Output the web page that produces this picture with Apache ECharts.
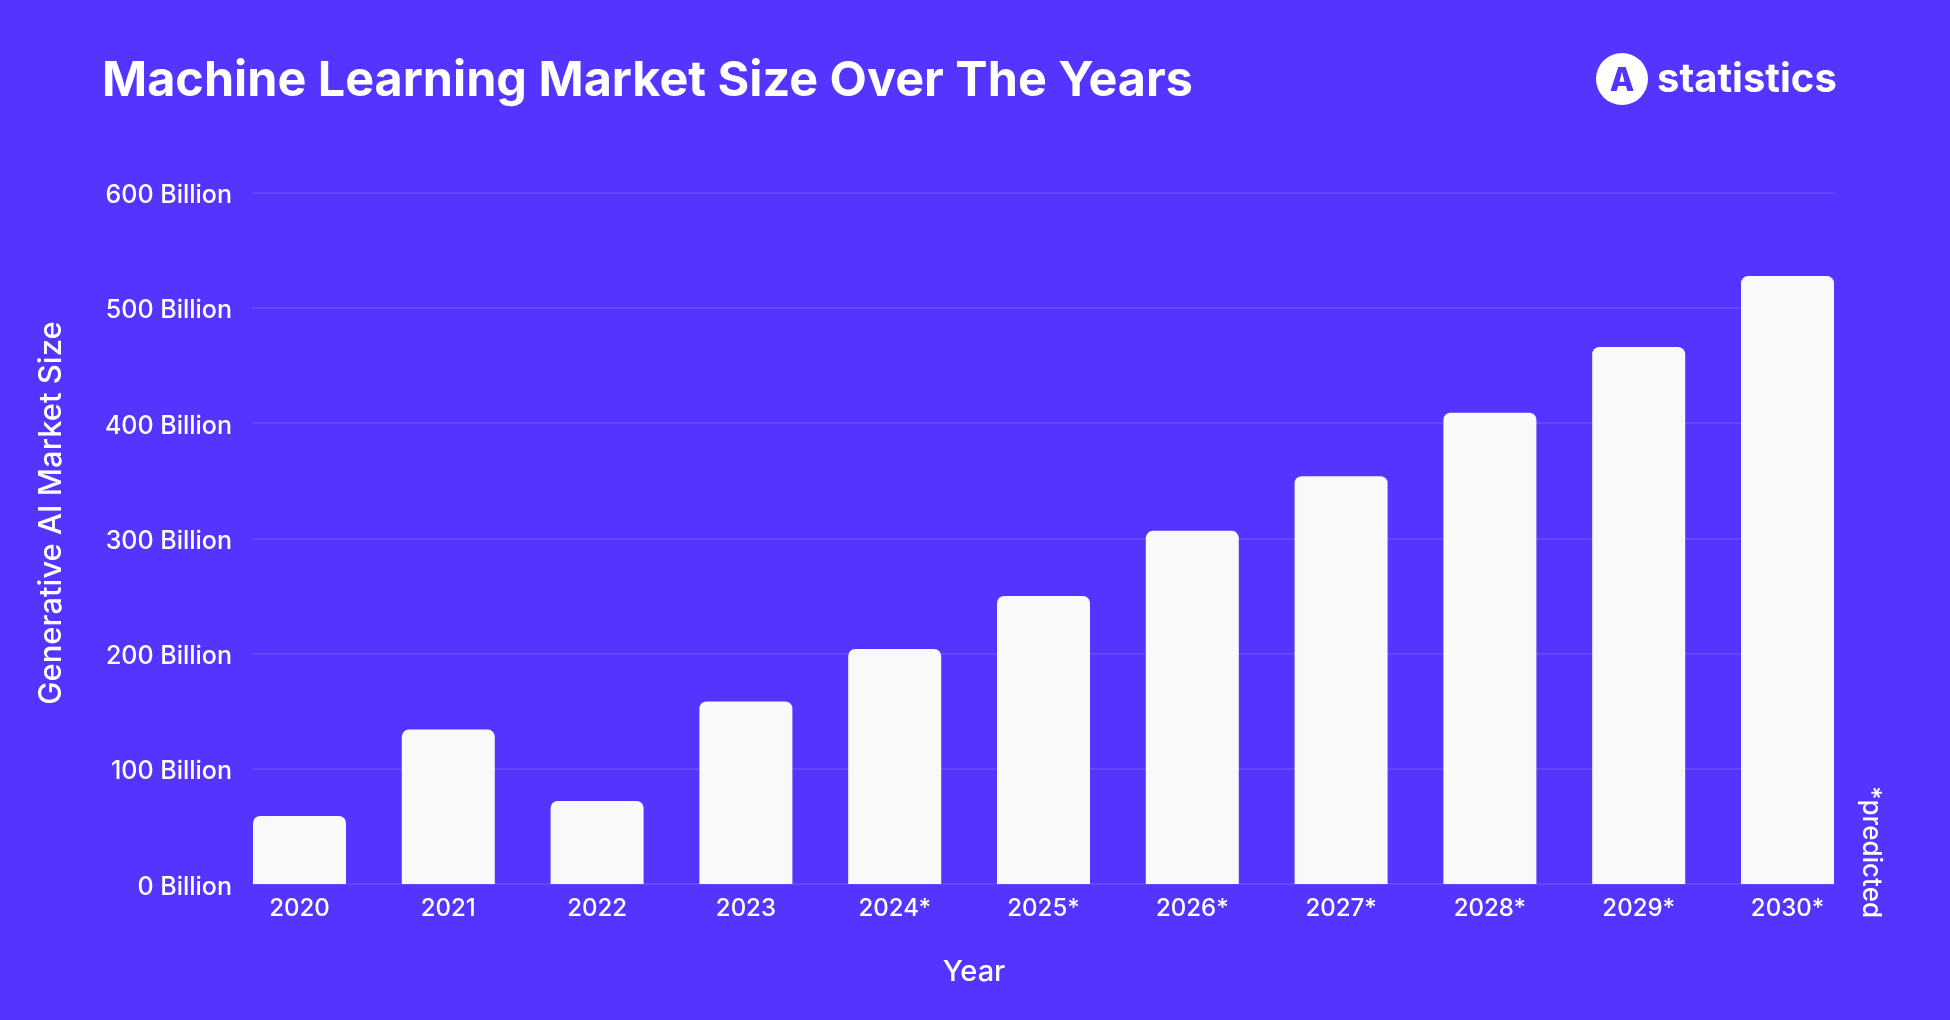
<!DOCTYPE html>
<html><head><meta charset="utf-8">
<script src="https://cdn.jsdelivr.net/npm/echarts@6/dist/echarts.min.js"></script>
<style>html,body{margin:0;padding:0;background:#5634ff}#c{width:1950px;height:1020px}</style>
</head><body><div id="c"></div>
<script>
const categories = ['2020','2021','2022','2023','2024*','2025*','2026*','2027*','2028*','2029*','2030*'];
const marketSize = [59, 134, 72, 158.5, 204, 250, 306.5, 354, 409, 466, 527.6];
const yMin = 0, yMax = 600, yStep = 100;
const titleText = 'Machine Learning Market Size Over The Years';
const yTitle = 'Generative AI Market Size';
const xTitle = 'Year';
const noteText = '*predicted';
const brandText = 'statistics';

const chart = echarts.init(document.getElementById('c'), null, {renderer: 'canvas'});
const white = '#ffffff';
const font = 'Inter, "Noto Sans", sans-serif';
chart.setOption({
  backgroundColor: '#5634ff',
  animation: false,
  title: {
    text: titleText, left: 97, top: 52,
    textStyle: {color: white, fontSize: 48.5, fontWeight: 700, fontFamily: 'Inter, "Open Sans", sans-serif'}
  },
  grid: [
    {left: 252, right: 116, top: 192.7, bottom: 136},
    {left: 299.5, right: 162.5, top: 192.7, bottom: 136}
  ],
  xAxis: [
    {gridIndex: 0, type: 'category', data: categories, show: false},
    {gridIndex: 1, type: 'category', data: categories, boundaryGap: false,
     axisLine: {show: false}, axisTick: {show: false}, splitLine: {show: false},
     axisLabel: {color: white, fontSize: 24, fontFamily: font, fontWeight: 500, margin: 13}}
  ],
  yAxis: [
    {gridIndex: 0, type: 'value', min: yMin, max: yMax, interval: yStep,
     axisLine: {show: false}, axisTick: {show: false},
     axisLabel: {color: white, margin: 20,
       formatter: v => '{t|' + v + ' Billion}',
       rich: {t: {color: white, fontSize: 25, fontFamily: font, fontWeight: 500, padding: [6, 0, 0, 0]}}},
     splitLine: {lineStyle: {color: 'rgba(255,255,255,0.13)', width: 1.5}}},
    {gridIndex: 1, type: 'value', min: yMin, max: yMax, interval: yStep, show: false,
     splitLine: {show: false}}
  ],
  series: [{
    type: 'bar', xAxisIndex: 1, yAxisIndex: 1, data: marketSize, barWidth: 93, clip: false,
    itemStyle: {color: '#f9f9f9', borderRadius: [7, 7, 0, 0]}
  }],
  graphic: [
    {type: 'text', x: 52, y: 513, rotation: Math.PI / 2, style: {text: yTitle, fill: white, font: '500 31px ' + font, textAlign: 'center', textVerticalAlign: 'middle'}},
    {type: 'text', x: 974, y: 972, style: {text: xTitle, fill: white, font: '500 29px ' + font, textAlign: 'center', textVerticalAlign: 'middle'}},
    {type: 'text', x: 1871, y: 852, rotation: -Math.PI / 2, style: {text: noteText, fill: white, font: '500 26px ' + font, textAlign: 'center', textVerticalAlign: 'middle'}},
    {type: 'circle', shape: {cx: 1622, cy: 79, r: 26}, style: {fill: white}},
    {type: 'text', x: 1622, y: 81, style: {text: 'A', fill: '#5634ff', font: '800 32px ' + font, textAlign: 'center', textVerticalAlign: 'middle'}},
    {type: 'text', x: 1657, y: 80, style: {text: brandText, fill: white, font: '700 40px ' + font, textAlign: 'left', textVerticalAlign: 'middle'}}
  ]
});
</script></body></html>
